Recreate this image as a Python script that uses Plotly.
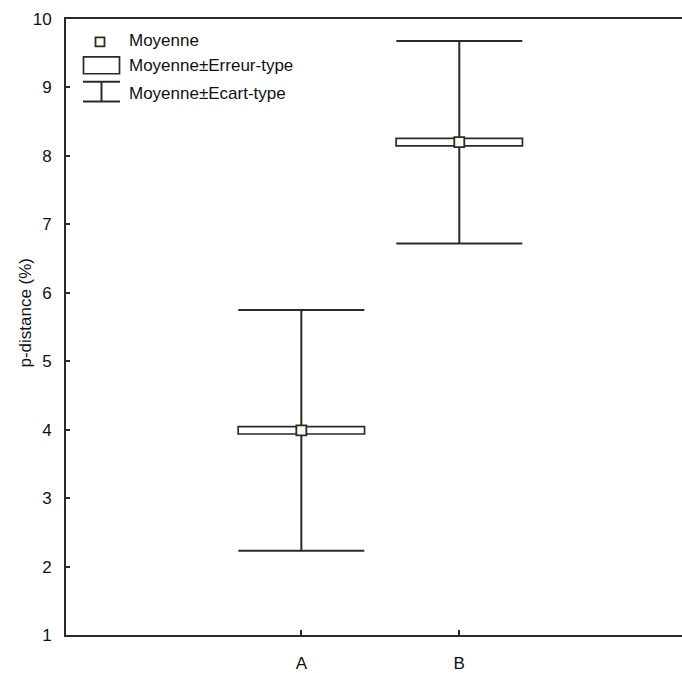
import plotly.graph_objects as go

categories = ["A", "B"]
means = [3.99, 8.2]
std_err = [0.053, 0.055]
std_dev = [1.76, 1.48]
y_ticks = [1, 2, 3, 4, 5, 6, 7, 8, 9, 10]

legend_labels = ["Moyenne", "Moyenne\u00b1Erreur-type", "Moyenne\u00b1Ecart-type"]

FONT = "Liberation Sans, Arial, sans-serif"
INK = "#2a2a2a"
W, H = 682, 673
L, T, B = 66, 19, 35
PW, PH = W - L, H - T - B

xpos = list(range(len(categories)))


def px(x):
    return (x - L) / PW


def py(y):
    return (H - B - y) / PH


fig = go.Figure()

# Standard error boxes
fig.add_trace(go.Bar(
    x=xpos,
    y=[2 * s for s in std_err],
    base=[m - s for m, s in zip(means, std_err)],
    width=0.8,
    marker=dict(color="white", line=dict(color=INK, width=1.7)),
    showlegend=False, hoverinfo="skip",
))

# Standard deviation whiskers
fig.add_trace(go.Scatter(
    x=xpos, y=means, mode="markers",
    marker=dict(size=1, opacity=0),
    error_y=dict(type="data", array=std_dev, visible=True,
                 width=63, thickness=2, color=INK),
    showlegend=False, hoverinfo="skip",
))

# Means
fig.add_trace(go.Scatter(
    x=xpos, y=means, mode="markers",
    marker=dict(symbol="square", size=10, color="#fffbea",
                line=dict(color=INK, width=1.8)),
    showlegend=False,
))

# ---- custom legend ----
shapes = []
annotations = []
shapes.append(dict(type="rect", xref="paper", yref="paper",
                   x0=px(95.5), x1=px(104.5), y0=py(46.5), y1=py(37.5),
                   line=dict(color=INK, width=1.8), fillcolor="#fffbea"))
shapes.append(dict(type="rect", xref="paper", yref="paper",
                   x0=px(83.5), x1=px(119.5), y0=py(74), y1=py(57),
                   line=dict(color=INK, width=1.7), fillcolor="white"))
for yy in (82, 102):
    shapes.append(dict(type="line", xref="paper", yref="paper",
                       x0=px(83), x1=px(120), y0=py(yy), y1=py(yy),
                       line=dict(color=INK, width=2)))
shapes.append(dict(type="line", xref="paper", yref="paper",
                   x0=px(101.5), x1=px(101.5), y0=py(82), y1=py(102),
                   line=dict(color=INK, width=2)))

for lab, yy in zip(legend_labels, (41, 66, 94)):
    annotations.append(dict(text=lab, xref="paper", yref="paper",
                            x=px(127), y=py(yy), xanchor="left", yanchor="middle",
                            showarrow=False, font=dict(family=FONT, size=17, color="#111")))

annotations.append(dict(text="p-distance (%)", xref="paper", yref="paper",
                        x=px(26), y=py(314), xanchor="center", yanchor="middle",
                        textangle=-90, showarrow=False,
                        font=dict(family=FONT, size=17, color="#111")))

fig.update_layout(
    width=W, height=H,
    margin=dict(l=L, r=0, t=T, b=B, pad=0),
    plot_bgcolor="white", paper_bgcolor="white",
    showlegend=False,
    shapes=shapes, annotations=annotations,
    font=dict(family=FONT, size=17, color="#111"),
    xaxis=dict(
        range=[-1.49, 2.41],
        tickvals=xpos, ticktext=categories,
        showgrid=False, zeroline=False,
        showline=True, linecolor=INK, linewidth=2, mirror=True,
        ticks="inside", ticklen=5, tickwidth=1.5, tickcolor=INK,
        ticklabelstandoff=12,
    ),
    yaxis=dict(
        range=[1, 10],
        tickvals=y_ticks,
        showgrid=False, zeroline=False,
        showline=True, linecolor=INK, linewidth=2,
        ticks="inside", ticklen=4, tickwidth=1.5, tickcolor=INK,
        ticklabelstandoff=9,
    ),
)

fig.write_html("out.html",
               config={"displayModeBar": False},
               post_script="document.body.style.margin='0';document.body.style.overflow='hidden';")
